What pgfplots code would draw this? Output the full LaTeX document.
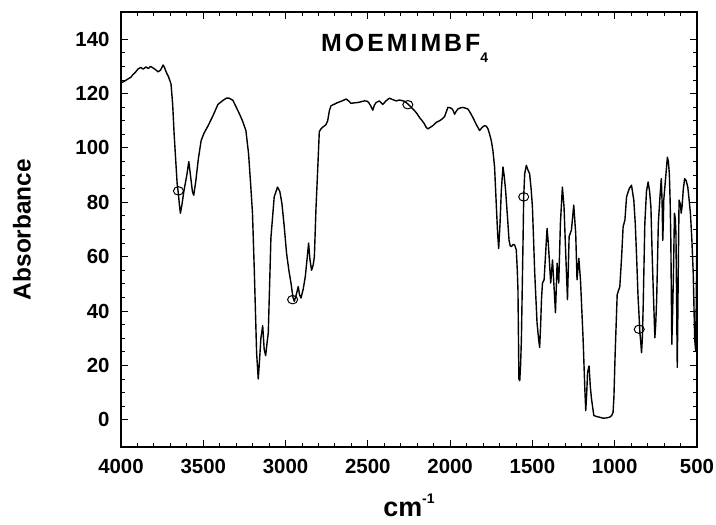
\documentclass[border=0pt]{standalone}
\usepackage{pgfplots}
\pgfplotsset{compat=1.18}
\usepackage{fontspec}
\setmainfont{Liberation Sans}
\newfontfamily\titlefont[LetterSpace=12]{Liberation Sans}
\begin{document}
\begin{tikzpicture}
\begin{axis}[
  scale only axis,
  width=576bp, height=435bp,
  x dir=reverse,
  xmin=500, xmax=4000, ymin=-10, ymax=150,
  xtick={500,1000,...,4000},
  ytick={0,20,...,140},
  minor x tick num=4,
  minor y tick num=3,
  tick pos=both,
  tick align=inside,
  major tick length=7bp,
  minor tick length=4bp,
  every tick/.style={black, line width=0.9bp},
  axis line style={line width=1.2bp},
  scaled x ticks=false,
  /pgf/number format/1000 sep={},
  /pgf/number format/assume math mode=true,
  ticklabel style={font=\fontsize{20.5}{21}\selectfont\bfseries},
  yticklabel style={xshift=-8bp},
  xticklabel style={yshift=-9bp},
  xlabel={cm\raisebox{0.45em}{\fontsize{14}{14}\selectfont -1}},
  xlabel style={font=\fontsize{27}{27}\selectfont\bfseries, at={(axis description cs:0.5,0)}, anchor=base, yshift=-69bp},
  ylabel={Absorbance},
  ylabel style={font=\fontsize{24.5}{25}\selectfont\bfseries, at={(axis description cs:-0.172,0.5)}, anchor=center},
  clip=true,
]
\addplot[black, line width=1.4bp, line join=round] coordinates {
(4000,123.9) (3980,124.5) (3957,125.4) (3940,126) (3927,127) (3910,128) (3897,129) (3880,129.6) (3865,129) (3848,129.8)
(3835,129.2) (3820,130) (3805,129.4) (3790,128.8) (3775,128) (3760,128.6) (3744,130.5) (3735,129.5) (3726,128) (3710,126)
(3696,123.5) (3686,116) (3677,105) (3668,96) (3659,87) (3651,83) (3645,79) (3639,76) (3630,79) (3617,84.4)
(3600,90) (3588,95) (3578,90) (3566,84) (3558,82.6) (3545,88) (3530,96) (3513,102.7) (3495,105.5) (3472,108)
(3440,112) (3411,116) (3380,117.5) (3360,118.3) (3343,118.3) (3320,117.5) (3300,115) (3280,112.5) (3262,110) (3241,106.4)
(3225,98) (3211,85.6) (3201,76) (3190,55) (3176,24.7) (3166,15) (3158,22) (3150,30) (3139,34.6) (3130,26)
(3121,23.6) (3113,28) (3105,32) (3089,67) (3069,82) (3049,85.6) (3035,84) (3022,79.5) (3008,71) (2994,61.3)
(2980,55) (2967,50.3) (2955,45) (2947,43.6) (2935,46) (2923,49) (2915,46) (2906,44.8) (2893,48) (2880,52.7)
(2868,60) (2860,65) (2852,59) (2842,55) (2832,57) (2825,60) (2815,78) (2805,91.7) (2795,106) (2785,107)
(2775,107.6) (2755,108.5) (2744,110) (2734,113.7) (2724,115.5) (2700,116.2) (2683,116.7) (2660,117.2) (2632,118) (2615,117.2)
(2602,116.4) (2580,116.6) (2562,116.7) (2540,117) (2521,117.3) (2505,117.2) (2495,116.7) (2483,115.5) (2470,113.9) (2460,115.8)
(2450,116.7) (2430,117.3) (2409,116) (2390,117.3) (2369,118.3) (2350,117.8) (2328,117.3) (2310,117.6) (2297,117.5) (2280,117.2)
(2267,116.7) (2245,115.5) (2230,114.5) (2216,113.7) (2200,112.5) (2186,111.2) (2170,110) (2156,108.8) (2146,107.6) (2136,107)
(2120,107.6) (2105,108.2) (2085,109.4) (2064,110) (2050,110.6) (2034,111.5) (2022,113.5) (2014,114.9) (2000,114.8) (1987,114.3)
(1980,113.5) (1973,112.4) (1963,113.5) (1953,114.3) (1940,114.7) (1923,114.9) (1905,114.6) (1892,114.3) (1878,113) (1862,111.2)
(1840,108.5) (1821,106.4) (1805,107.6) (1791,108.2) (1780,108) (1770,107) (1760,105) (1750,102.7) (1740,99) (1730,93)
(1719,78.3) (1711,68) (1705,63) (1697,72) (1689,84.4) (1679,93) (1672,90) (1663,84.4) (1652,75) (1642,66)
(1635,64) (1628,63.7) (1618,64.5) (1608,64.3) (1598,62.5) (1592,55) (1588,48) (1582,15) (1577,14.4) (1572,20)
(1567,29.6) (1562,48) (1557,66) (1553,82) (1547,90.5) (1537,93.6) (1528,92) (1517,90.5) (1508,85) (1500,78.3)
(1486,54) (1472,35.7) (1463,30) (1456,26.6) (1450,35) (1445,44.2) (1439,50.3) (1429,51.5) (1421,60) (1411,70.4)
(1405,66) (1401,62.5) (1389,50.3) (1378,58.8) (1370,50.3) (1360,39.4) (1350,57.6) (1340,50.3) (1330,72.2) (1318,85.6)
(1308,78.3) (1297,60) (1287,44.2) (1277,67.4) (1263,69.8) (1249,79) (1237,68.6) (1229,51.5) (1218,59.4) (1208,51.5)
(1192,29.6) (1182,12) (1176,3.4) (1170,10) (1165,17.4) (1156,19.8) (1148,12) (1141,7.7) (1127,1.6) (1110,1.2)
(1095,1) (1070,0.6) (1050,0.7) (1030,1.0) (1018,1.6) (1010,2.8) (1005,8) (997,25) (985,46) (969,49)
(958,60) (949,71) (938,73.5) (928,82) (912,85) (898,86.3) (884,80.8) (875,72) (867,60) (858,45)
(853,39.4) (847,32) (841,28) (837,24.7) (832,30) (827,41.8) (817,72.2) (807,84) (797,87.5) (788,84)
(780,78.3) (773,62) (766,48) (756,30.2) (751,35) (745,44.2) (735,72.2) (725,82) (717,88.7) (712,80)
(708,66) (705,72) (702,80.8) (692,88) (680,96.6) (674,95) (668,90.5) (663,80) (659,66) (653,27.8)
(648,40) (643,54) (637,76) (632,74) (628,68.6) (624,45) (620,19.3) (617,35) (614,54) (609,80.8)
(605,80) (601,79.5) (596,76) (591,78.3) (583,85) (575,88.7) (566,88) (556,85.6) (548,81) (540,76)
(531,66) (523,54) (514,29.6) (508,25.3) (505,40) (502,60) (500,66)
};
\addplot[only marks, mark=o, mark size=4.2bp, mark options={xscale=1.2, line width=1bp, black}] coordinates {
(3651,84.2) (2957,44.2) (2257,115.9) (1553,82) (851,33.3)
};
\node[anchor=base west, inner sep=0pt, font=\fontsize{25}{25}\selectfont\bfseries\titlefont] at (axis cs:2785,135.3) {MOEMIMBF\raisebox{-11bp}{\fontsize{14}{14}\selectfont 4}};
\end{axis}
\pgfresetboundingbox
\path (current axis.south west) ++(-121bp,-77bp) coordinate (bl);
\path (current axis.north east) ++(19bp,12bp) coordinate (tr);
\path[use as bounding box] (bl) rectangle (tr);
\end{tikzpicture}
\end{document}
